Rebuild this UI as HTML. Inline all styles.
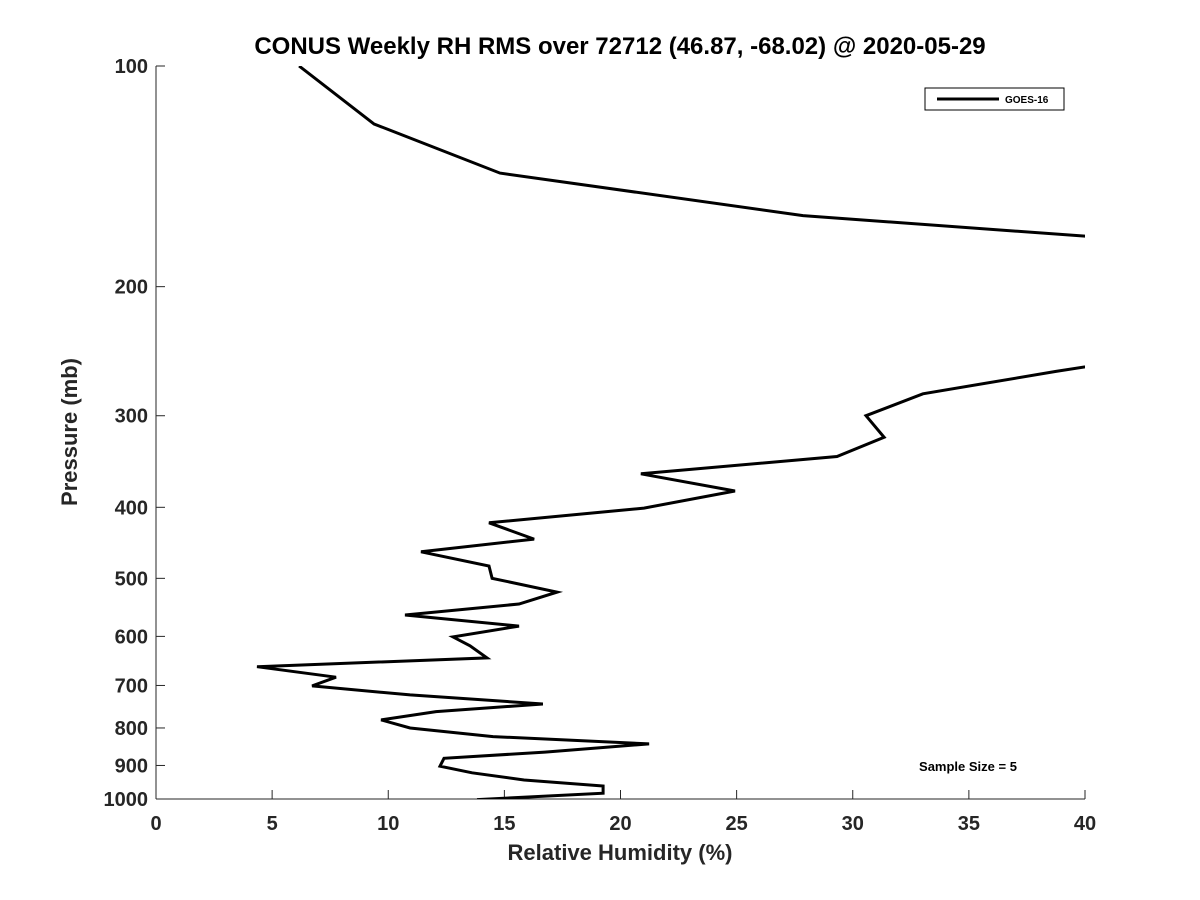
<!DOCTYPE html>
<html><head><meta charset="utf-8"><style>
body{margin:0;background:#fff}
svg{display:block;font-family:"Liberation Sans","DejaVu Sans",sans-serif}
</style></head><body>
<svg id="chart" width="1200" height="900">
<rect width="1200" height="900" fill="#fff"/>
<text x="620" y="54" text-anchor="middle" font-size="24" font-weight="bold" fill="#000">CONUS Weekly RH RMS over 72712 (46.87, -68.02) @ 2020-05-29</text>
<defs><clipPath id="pc"><rect x="156" y="66" width="929" height="733"/></clipPath></defs>
<g id="axes"></g>
<path id="series" clip-path="url(#pc)" fill="none" stroke="#000" stroke-width="3" stroke-linejoin="miter"/>
<g>
<rect x="925" y="88" width="139" height="22" fill="#fff" stroke="#000" stroke-width="1"/>
<line x1="937" y1="99" x2="999" y2="99" stroke="#000" stroke-width="3"/>
<text x="1005" y="103" font-size="10" font-weight="bold">GOES-16</text>
</g>
<text x="968" y="771" text-anchor="middle" font-size="13" font-weight="bold">Sample Size = 5</text>
<text x="620" y="860" text-anchor="middle" font-size="22" font-weight="bold" fill="#262626">Relative Humidity (%)</text>
<text transform="translate(77,432) rotate(-90)" text-anchor="middle" font-size="22" font-weight="bold" fill="#262626">Pressure (mb)</text>
</svg>
<script>
const rhValues=[6.16,9.39,14.81,27.86,50,55,50,42.5,38.75,33.02,30.57,31.35,29.32,20.88,24.93,21.01,14.34,16.28,11.41,14.34,14.47,17.27,15.63,10.72,15.63,12.79,13.52,14.25,4.35,7.75,6.72,10.94,16.66,12.06,9.69,10.94,14.51,21.23,16.75,12.40,12.23,13.61,15.85,19.25,19.25,13.82];
const pressures=[100,120,140,160,180,200,225,250,261,280,300,321,341,360,380,401,420,442,460,481,500,522,542,561,581,601,618,642,660,682,701,721,742,760,780,800,822,841,863,880,902,921,942,960,982,1002];
const xTicks=[0,5,10,15,20,25,30,35,40];
const yTicks=[100,200,300,400,500,600,700,800,900,1000];
const X=v=>156+v/40*929;
const Y=p=>66+(Math.log10(p)-2)*733;
const ns="http://www.w3.org/2000/svg";
const ax=document.getElementById('axes');
function mk(t,a,txt){const e=document.createElementNS(ns,t);for(const k in a)e.setAttribute(k,a[k]);if(txt!=null)e.textContent=txt;ax.appendChild(e);return e;}
const yl=mk('line',{x1:156,y1:66,x2:156,y2:799,stroke:'#262626','stroke-width':1});


const xl=mk('line',{x1:156,y1:799,x2:1085,y2:799,stroke:'#262626','stroke-width':1});


xTicks.forEach(v=>{
mk('line',{x1:X(v),y1:799,x2:X(v),y2:790,stroke:'#262626'});
const t=mk('text',{x:X(v),y:830,'text-anchor':'middle','font-size':20,'font-weight':'bold',fill:'#262626'},String(v));


});
yTicks.forEach(p=>{
mk('line',{x1:156,y1:Y(p),x2:165,y2:Y(p),stroke:'#262626'});
const t=mk('text',{x:148,y:Y(p)+7,'text-anchor':'end','font-size':20,'font-weight':'bold',fill:'#262626'},String(p));


});
document.getElementById('series').setAttribute('d',rhValues.map((v,i)=>(i?'L':'M')+X(v).toFixed(1)+' '+Y(pressures[i]).toFixed(1)).join(' '));
</script>
</body></html>
